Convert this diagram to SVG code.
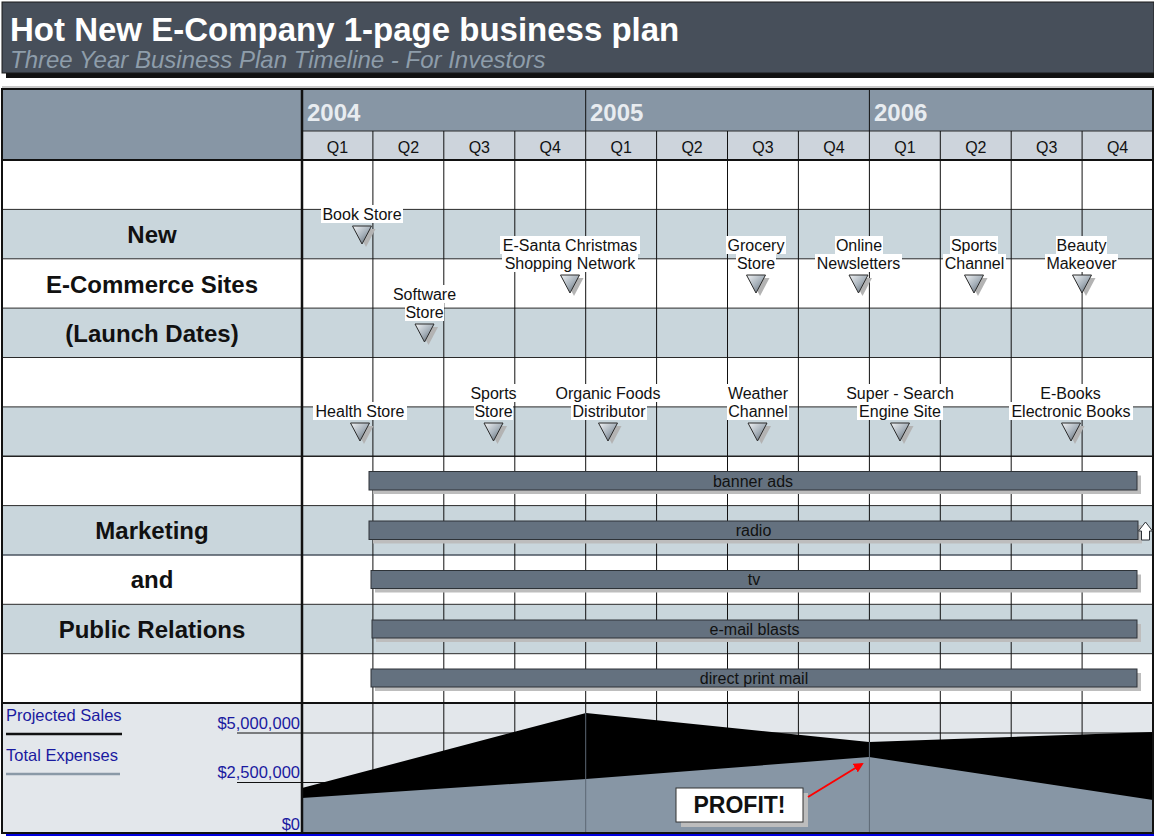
<svg xmlns="http://www.w3.org/2000/svg" width="1154" height="836" viewBox="0 0 1154 836">
<style>
text{font-family:"Liberation Sans",Arial,sans-serif;}
.lbl{font-size:16px;fill:#111;text-anchor:middle;}
.lbg{fill:#fff;}
.side{font-size:24px;font-weight:bold;fill:#111;text-anchor:middle;}
.q{font-size:16px;fill:#111;text-anchor:middle;}
.yr{font-size:24px;font-weight:bold;fill:#e8ecf0;}
.bar{fill:#64717f;stroke:#2e3338;stroke-width:1;}
.bsh{fill:#bdbdbd;}
.btx{font-size:16px;fill:#111;text-anchor:middle;}
.grid{stroke:#111;stroke-width:1;}
.hl{stroke:#2a2a2a;stroke-width:1;}
.blue{fill:#c9d6dc;}
.ch{font-size:16.5px;fill:#1a1aa0;}
</style>
<defs>
<linearGradient id="tg" x1="0" y1="0" x2="1" y2="1">
<stop offset="0" stop-color="#f2f4f6"/>
<stop offset="0.5" stop-color="#a9b3bc"/>
<stop offset="1" stop-color="#4f5a65"/>
</linearGradient>
<g id="tri">
<polygon points="-5.5,3 13.5,3 4,21" fill="#b3b3b3"/>
<polygon points="-9.5,0 9.5,0 0,18" fill="url(#tg)" stroke="#2b2b2b" stroke-width="1"/>
</g>
<marker id="ah" markerWidth="10" markerHeight="10" refX="8" refY="5" orient="auto" markerUnits="userSpaceOnUse" viewBox="0 0 10 10">
<path d="M0,0 L10,5 L0,10 z" fill="#ff0000"/>
</marker>
</defs>

<g id="header">
<rect x="6" y="7" width="1148" height="71" fill="#111"/>
<rect x="2" y="2" width="1152" height="71" fill="#474f5a" stroke="#1a1a1a" stroke-width="1"/>
<text x="10" y="41" font-size="33" font-weight="bold" fill="#ffffff">Hot New E-Company 1-page business plan</text>
<text x="10" y="68" font-size="24" font-style="italic" fill="#8e9daa">Three Year Business Plan Timeline - For Investors</text>
</g>

<g id="table">
<rect x="2" y="86" width="1152" height="3" fill="#c8c8c8"/>
<rect x="2" y="89" width="300" height="71" fill="#8796a5"/>
<rect x="302" y="89" width="851" height="42" fill="#8796a5"/>
<rect x="302" y="131" width="851" height="29" fill="#cdd4dc"/>
<rect x="2" y="160" width="1151" height="543" fill="#ffffff"/>
<rect class="blue" x="2" y="209.4" width="1151" height="49.4"/>
<rect class="blue" x="2" y="308.1" width="1151" height="49.4"/>
<rect class="blue" x="2" y="406.9" width="1151" height="49.4"/>
<rect class="blue" x="2" y="505.6" width="1151" height="49.4"/>
<rect class="blue" x="2" y="604.3" width="1151" height="49.4"/>
<rect x="2" y="703" width="1151" height="130" fill="#e3e7eb"/>
<text class="yr" x="307" y="121">2004</text>
<text class="yr" x="590" y="121">2005</text>
<text class="yr" x="874" y="121">2006</text>
<g class="q">
<text class="q" x="337.5" y="153">Q1</text>
<text class="q" x="408.4" y="153">Q2</text>
<text class="q" x="479.3" y="153">Q3</text>
<text class="q" x="550.2" y="153">Q4</text>
<text class="q" x="621.2" y="153">Q1</text>
<text class="q" x="692.1" y="153">Q2</text>
<text class="q" x="763" y="153">Q3</text>
<text class="q" x="833.9" y="153">Q4</text>
<text class="q" x="904.9" y="153">Q1</text>
<text class="q" x="975.8" y="153">Q2</text>
<text class="q" x="1046.7" y="153">Q3</text>
<text class="q" x="1117.6" y="153">Q4</text>
</g>
<line class="hl" x1="302" y1="131" x2="1153" y2="131"/>
<line x1="2" y1="160" x2="1153" y2="160" stroke="#111" stroke-width="2"/>
<line class="hl" x1="2" y1="209.4" x2="1153" y2="209.4"/>
<line class="hl" x1="2" y1="258.8" x2="1153" y2="258.8"/>
<line class="hl" x1="2" y1="308.1" x2="1153" y2="308.1"/>
<line class="hl" x1="2" y1="357.5" x2="1153" y2="357.5"/>
<line class="hl" x1="2" y1="406.9" x2="1153" y2="406.9"/>
<line x1="2" y1="456.3" x2="1153" y2="456.3" stroke="#222" stroke-width="1.5"/>
<line class="hl" x1="2" y1="505.6" x2="1153" y2="505.6"/>
<line x1="2" y1="555" x2="1153" y2="555" stroke="#4a5560" stroke-width="1.5"/>
<line class="hl" x1="2" y1="604.3" x2="1153" y2="604.3"/>
<line class="hl" x1="2" y1="653.7" x2="1153" y2="653.7"/>
<line x1="2" y1="703" x2="1153" y2="703" stroke="#111" stroke-width="2"/>
<g class="grid">
<line x1="372.9" y1="131" x2="372.9" y2="833"/>
<line x1="443.8" y1="131" x2="443.8" y2="833"/>
<line x1="514.8" y1="131" x2="514.8" y2="833"/>
<line x1="585.7" y1="89" x2="585.7" y2="833"/>
<line x1="656.6" y1="131" x2="656.6" y2="833"/>
<line x1="727.5" y1="131" x2="727.5" y2="833"/>
<line x1="798.4" y1="131" x2="798.4" y2="833"/>
<line x1="869.4" y1="89" x2="869.4" y2="833"/>
<line x1="940.3" y1="131" x2="940.3" y2="833"/>
<line x1="1011.2" y1="131" x2="1011.2" y2="833"/>
<line x1="1082.1" y1="131" x2="1082.1" y2="833"/>
</g>
<text class="side" x="152" y="243">New</text>
<text class="side" x="152" y="293">E-Commerce Sites</text>
<text class="side" x="152" y="342">(Launch Dates)</text>
<text class="side" x="152" y="539">Marketing</text>
<text class="side" x="152" y="588">and</text>
<text class="side" x="152" y="638">Public Relations</text>
</g>

<g id="chart">
<line x1="237" y1="733" x2="1153" y2="733" stroke="#111" stroke-width="1"/>
<line x1="237" y1="782.5" x2="1153" y2="782.5" stroke="#111" stroke-width="1"/>
<polygon points="302,788 586,713 869,742 1153,732 1153,833 302,833" fill="#000"/>
<polygon points="302,798 586,779 869,757 1153,800 1153,833 302,833" fill="#8796a5"/>
<line x1="585.7" y1="713" x2="585.7" y2="833" stroke="#5d6874" stroke-width="1"/>
<line x1="869.4" y1="742" x2="869.4" y2="833" stroke="#5d6874" stroke-width="1"/>
<text class="ch" x="6" y="721">Projected Sales</text>
<line x1="6" y1="734" x2="122" y2="734" stroke="#111" stroke-width="2.5"/>
<text class="ch" x="6" y="761">Total Expenses</text>
<line x1="6" y1="774" x2="120" y2="774" stroke="#8a99a7" stroke-width="2.5"/>
<text class="ch" x="300" y="729" text-anchor="end">$5,000,000</text>
<text class="ch" x="300" y="778" text-anchor="end">$2,500,000</text>
<text class="ch" x="300" y="830" text-anchor="end">$0</text>
<rect x="6" y="833" width="1148" height="3" fill="#0000dd"/>
</g>

<g id="frame">
<line x1="302" y1="89" x2="302" y2="833" stroke="#111" stroke-width="2.5"/>
<rect x="2" y="89" width="1151" height="744" fill="none" stroke="#111" stroke-width="2"/>
</g>

<g id="m-bookstore">
<rect class="lbg" x="321" y="205" width="82" height="18"/>
<text class="lbl" x="362" y="220">Book Store</text>
<use href="#tri" x="362" y="226"/>
</g>
<g id="m-esanta">
<rect class="lbg" x="500" y="236" width="140" height="18"/>
<rect class="lbg" x="502" y="254" width="136" height="18"/>
<text class="lbl" x="570" y="251">E-Santa Christmas</text>
<text class="lbl" x="570" y="269">Shopping Network</text>
<use href="#tri" x="570" y="275"/>
</g>
<g id="m-software">
<rect class="lbg" x="392" y="285" width="65" height="18"/>
<rect class="lbg" x="405" y="303" width="39" height="18"/>
<text class="lbl" x="424.5" y="300">Software</text>
<text class="lbl" x="424.5" y="318">Store</text>
<use href="#tri" x="424.5" y="324"/>
</g>
<g id="m-grocery">
<rect class="lbg" x="726" y="236" width="60" height="18"/>
<rect class="lbg" x="736" y="254" width="40" height="18"/>
<text class="lbl" x="756" y="251">Grocery</text>
<text class="lbl" x="756" y="269">Store</text>
<use href="#tri" x="756" y="275"/>
</g>
<g id="m-newsletters">
<rect class="lbg" x="835" y="236" width="48" height="18"/>
<rect class="lbg" x="815" y="254" width="87" height="18"/>
<text class="lbl" x="859" y="251">Online</text>
<text class="lbl" x="858.5" y="269">Newsletters</text>
<use href="#tri" x="858.5" y="275"/>
</g>
<g id="m-sportschannel">
<rect class="lbg" x="950" y="236" width="48" height="18"/>
<rect class="lbg" x="943" y="254" width="63" height="18"/>
<text class="lbl" x="974" y="251">Sports</text>
<text class="lbl" x="974.5" y="269">Channel</text>
<use href="#tri" x="974" y="275"/>
</g>
<g id="m-beauty">
<rect class="lbg" x="1056" y="236" width="51" height="18"/>
<rect class="lbg" x="1045" y="254" width="73" height="18"/>
<text class="lbl" x="1081.5" y="251">Beauty</text>
<text class="lbl" x="1081.5" y="269">Makeover</text>
<use href="#tri" x="1082" y="275"/>
</g>
<g id="m-health">
<rect class="lbg" x="313" y="402" width="94" height="18"/>
<text class="lbl" x="360" y="417">Health Store</text>
<use href="#tri" x="360" y="423"/>
</g>
<g id="m-sportsstore">
<rect class="lbg" x="469" y="384" width="48" height="18"/>
<rect class="lbg" x="474" y="402" width="39" height="18"/>
<text class="lbl" x="493.5" y="399">Sports</text>
<text class="lbl" x="493.5" y="417">Store</text>
<use href="#tri" x="493.5" y="423"/>
</g>
<g id="m-organic">
<rect class="lbg" x="553" y="384" width="110" height="18"/>
<rect class="lbg" x="571" y="402" width="76" height="18"/>
<text class="lbl" x="608" y="399">Organic Foods</text>
<text class="lbl" x="609" y="417">Distributor</text>
<use href="#tri" x="608" y="423"/>
</g>
<g id="m-weather">
<rect class="lbg" x="727" y="384" width="62" height="18"/>
<rect class="lbg" x="727" y="402" width="62" height="18"/>
<text class="lbl" x="758" y="399">Weather</text>
<text class="lbl" x="758" y="417">Channel</text>
<use href="#tri" x="757.5" y="423"/>
</g>
<g id="m-supersearch">
<rect class="lbg" x="844" y="384" width="112" height="18"/>
<rect class="lbg" x="857" y="402" width="86" height="18"/>
<text class="lbl" x="900" y="399">Super - Search</text>
<text class="lbl" x="900" y="417">Engine Site</text>
<use href="#tri" x="900" y="423"/>
</g>
<g id="m-ebooks">
<rect class="lbg" x="1039" y="384" width="63" height="18"/>
<rect class="lbg" x="1009" y="402" width="124" height="18"/>
<text class="lbl" x="1070.5" y="399">E-Books</text>
<text class="lbl" x="1071" y="417">Electronic Books</text>
<use href="#tri" x="1071" y="423"/>
</g>

<g id="bar-banner">
<rect class="bsh" x="373" y="475.5" width="768" height="18.5"/>
<rect class="bar" x="369" y="471.5" width="768" height="18.5"/>
<text class="btx" x="753" y="486.5">banner ads</text>
</g>
<g id="bar-radio">
<rect class="bsh" x="373" y="525" width="769" height="18.5"/>
<rect class="bar" x="369" y="521" width="769" height="18.5"/>
<text class="btx" x="753.5" y="536">radio</text>
<path d="M1138.5,531 L1145.5,522 L1152.5,531 L1149.5,531 L1149.5,540 L1141.5,540 L1141.5,531 Z" fill="#ffffff" stroke="#2e3338" stroke-width="1"/>
</g>
<g id="bar-tv">
<rect class="bsh" x="375" y="574.5" width="766" height="18"/>
<rect class="bar" x="371" y="570.5" width="766" height="18"/>
<text class="btx" x="754" y="585">tv</text>
</g>
<g id="bar-email">
<rect class="bsh" x="376" y="624" width="765" height="18"/>
<rect class="bar" x="372" y="620" width="765" height="18"/>
<text class="btx" x="754.5" y="634.5">e-mail blasts</text>
</g>
<g id="bar-print">
<rect class="bsh" x="375" y="673" width="766" height="18"/>
<rect class="bar" x="371" y="669" width="766" height="18"/>
<text class="btx" x="754" y="683.5">direct print mail</text>
</g>

<g id="profit">
<rect x="681" y="793" width="127" height="34" fill="#bdbdbd"/>
<rect x="676" y="788" width="127" height="34" fill="#ffffff" stroke="#333" stroke-width="1"/>
<text x="739.5" y="813" font-size="23" font-weight="bold" fill="#111" text-anchor="middle">PROFIT!</text>
</g>

<g id="connectors">
<line x1="808" y1="797" x2="862" y2="764" stroke="#ff0000" stroke-width="2" marker-end="url(#ah)"/>
</g>
</svg>
